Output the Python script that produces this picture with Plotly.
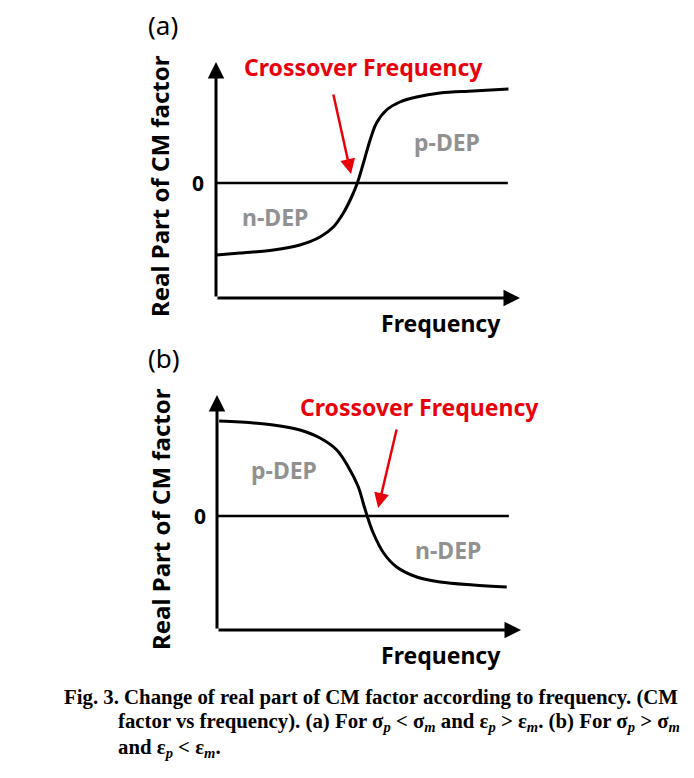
import plotly.graph_objects as go

W, H = 694, 778
OFF = 8  # page body margin
FW, FH = W - OFF, H - OFF

# ---- data ----
freq_a = [0.02, 0.79, 1.89, 2.76, 3.42, 3.86, 4.19, 4.46, 4.65, 4.85, 5.07, 5.28, 5.61, 6.05, 6.60, 7.37, 8.46, 9.62]
cm_a = [-0.72, -0.70, -0.67, -0.62, -0.54, -0.44, -0.30, -0.14, 0.0, 0.20, 0.43, 0.60, 0.73, 0.81, 0.86, 0.90, 0.92, 0.94]

freq_b = [0.07, 0.76, 1.85, 2.73, 3.39, 3.94, 4.32, 4.65, 4.81, 4.94, 5.14, 5.48, 5.91, 6.57, 7.34, 8.43, 9.53]
cm_b = [0.95, 0.94, 0.91, 0.86, 0.78, 0.66, 0.49, 0.29, 0.13, 0.0, -0.17, -0.37, -0.51, -0.61, -0.66, -0.69, -0.71]

panel_labels = ["(a)", "(b)"]
region_labels_a = ["n-DEP", "p-DEP"]
region_labels_b = ["p-DEP", "n-DEP"]
crossover_label = "Crossover Frequency"
y_title = "Real Part of CM factor"
x_title = "Frequency"
zero_label = "0"

FONT = "Noto Sans"
RED = "#E8000B"
GRAY = "#919191"

def px(x):
    return (x - OFF) / FW

def py(y):
    return 1 - (y - OFF) / FH

fig = go.Figure()
fig.add_trace(go.Scatter(x=freq_a, y=cm_a, mode="lines", line=dict(color="black", width=3, shape="spline", smoothing=1.0),
                         xaxis="x", yaxis="y", showlegend=False, hoverinfo="skip"))
fig.add_trace(go.Scatter(x=freq_b, y=cm_b, mode="lines", line=dict(color="black", width=3, shape="spline", smoothing=1.0),
                         xaxis="x2", yaxis="y2", showlegend=False, hoverinfo="skip"))

ax_common = dict(visible=False, fixedrange=True)
fig.update_layout(
    width=FW, height=FH, margin=dict(l=0, r=0, t=0, b=0),
    paper_bgcolor="white", plot_bgcolor="white",
    xaxis=dict(domain=[px(216), px(520)], range=[0, 10], **ax_common),
    yaxis=dict(domain=[py(298), py(62)], range=[-1.15, 1.21], **ax_common),
    xaxis2=dict(domain=[px(217), px(521)], range=[0, 10], anchor="y2", **ax_common),
    yaxis2=dict(domain=[py(630), py(395)], range=[-1.14, 1.21], anchor="x2", **ax_common),
    showlegend=False,
)

ann = []
shapes = []
panels = [
    ("x", "y", -1.15, 1.21, region_labels_a, (1.95, -0.34), (7.6, 0.41), (4.44, 0.09), (3.85, 0.90), (242, 67), 25, 160, 186, 323, 198, 0),
    ("x2", "y2", -1.14, 1.21, region_labels_b, (2.2, 0.46), (7.6, -0.34), (5.30, 0.08), (5.92, 0.88), (298, 407), 358, 160, 519, 655, 200, 1),
]
for (xr, yr, ylo, yhi, rl, pos1, pos2, tip, tail, cpos, lab_y, ytx, yty, ftx_y, zx, idx) in panels:
    ann.append(dict(x=0, y=yhi, xref=xr, yref=yr, ax=0, ay=ylo, axref=xr, ayref=yr, text="", showarrow=True,
                    arrowhead=2, arrowsize=1.1, arrowwidth=3, arrowcolor="black"))
    ann.append(dict(x=10, y=ylo, xref=xr, yref=yr, ax=0, ay=ylo, axref=xr, ayref=yr, text="", showarrow=True,
                    arrowhead=2, arrowsize=1.1, arrowwidth=3, arrowcolor="black"))
    shapes.append(dict(type="line", xref=xr, yref=yr, x0=0, x1=9.6, y0=0, y1=0, line=dict(color="black", width=2.5)))
    ann.append(dict(x=tip[0], y=tip[1], xref=xr, yref=yr, ax=tail[0], ay=tail[1], axref=xr, ayref=yr, text="",
                    showarrow=True, arrowhead=2, arrowsize=1.2, arrowwidth=2.5, arrowcolor=RED))
    ann.append(dict(x=px(cpos[0]), y=py(cpos[1]), xref="paper", yref="paper", text="<b>%s</b>" % crossover_label,
                    showarrow=False, xanchor="left", yanchor="middle", font=dict(family=FONT, size=23, color=RED)))
    ann.append(dict(x=pos1[0], y=pos1[1], xref=xr, yref=yr, text="<b>%s</b>" % rl[0], showarrow=False,
                    font=dict(family=FONT, size=23, color=GRAY)))
    ann.append(dict(x=pos2[0], y=pos2[1], xref=xr, yref=yr, text="<b>%s</b>" % rl[1], showarrow=False,
                    font=dict(family=FONT, size=23, color=GRAY)))
    ann.append(dict(x=px(146), y=py(lab_y), xref="paper", yref="paper", text=panel_labels[idx], showarrow=False,
                    xanchor="left", yanchor="middle", font=dict(family=FONT, size=26, color="black")))
    ann.append(dict(x=px(ytx), y=py(yty), xref="paper", yref="paper", text="<b>%s</b>" % y_title, showarrow=False,
                    textangle=-90, xanchor="center", yanchor="middle", font=dict(family=FONT, size=24, color="black")))
    ann.append(dict(x=px(503), y=py(ftx_y), xref="paper", yref="paper", text="<b>%s</b>" % x_title, showarrow=False,
                    xanchor="right", yanchor="middle", font=dict(family=FONT, size=23, color="black")))
    ann.append(dict(x=px(zx), y=0, xref="paper", yref=yr, text="<b>%s</b>" % zero_label, showarrow=False,
                    xanchor="center", yanchor="middle", font=dict(family=FONT, size=21, color="black")))

cap_font = dict(family="Liberation Serif", size=20.8, color="black")
sp = "σ<sub><i>p</i></sub>"
sm = "σ<sub><i>m</i></sub>"
ep = "ε<sub><i>p</i></sub>"
em = "ε<sub><i>m</i></sub>"
caption_lines = [
    (62, 697, "Fig. 3. Change of real part of CM factor according to frequency. (CM"),
    (116, 722, "factor vs frequency). (a) For %s &lt; %s and %s &gt; %s. (b) For %s &gt; %s" % (sp, sm, ep, em, sp, sm)),
    (116, 748, "and %s &lt; %s." % (ep, em)),
]
for x0, y0, t in caption_lines:
    ann.append(dict(x=px(x0), y=py(y0), xref="paper", yref="paper", text="<b>%s</b>" % t, showarrow=False,
                    xanchor="left", yanchor="middle", font=cap_font))

fig.update_layout(annotations=ann, shapes=shapes)
fig.write_html("out.html")
